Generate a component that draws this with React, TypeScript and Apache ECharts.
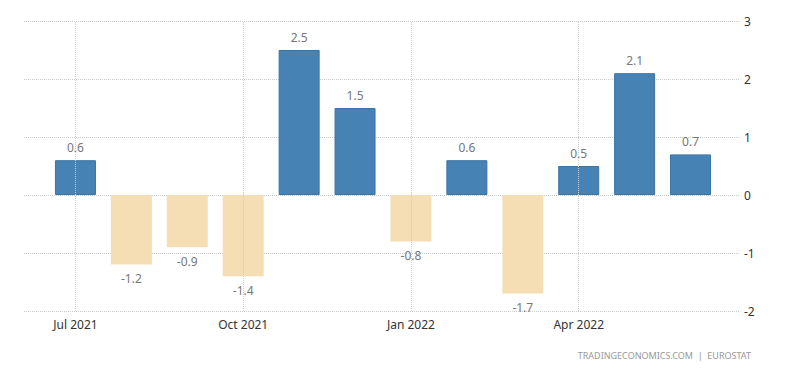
import React, { useEffect, useRef } from "react";
import * as echarts from "echarts";

const months = [
  "Jul 2021", "Aug 2021", "Sep 2021", "Oct 2021", "Nov 2021", "Dec 2021",
  "Jan 2022", "Feb 2022", "Mar 2022", "Apr 2022", "May 2022", "Jun 2022",
];
const values = [0.6, -1.2, -0.9, -1.4, 2.5, 1.5, -0.8, 0.6, -1.7, 0.5, 2.1, 0.7];
const gridMonths = ["Jul 2021", "Oct 2021", "Jan 2022", "Apr 2022"];
const yMin = -2;
const yMax = 3;
const source = "TRADINGECONOMICS.COM  |  EUROSTAT";

const FONT = "'Noto Sans', 'Open Sans', sans-serif";

export default function App() {
  const ref = useRef<HTMLDivElement>(null);

  useEffect(() => {
    document.body.style.margin = "0";
    if (!ref.current) return;
    const chart = echarts.init(ref.current, null, { renderer: "svg" });
    chart.setOption({
      animation: false,
      backgroundColor: "#ffffff",
      textStyle: { fontFamily: FONT },
      grid: [
        { left: 24, right: 60, top: 21, bottom: 62 },
        { left: 47.5, right: 81.5, top: 21, bottom: 62 },
      ],
      xAxis: [
        { gridIndex: 0, type: "value", min: 0, max: 1, show: false },
        {
          gridIndex: 1,
          type: "category",
          data: months,
          axisLine: { show: false },
          axisTick: { show: false },
          splitLine: { show: false },
          axisLabel: {
            interval: 2,
            margin: 7,
            color: "#333",
            fontSize: 12,
            fontFamily: FONT,
          },
        },
      ],
      yAxis: [
        {
          gridIndex: 0,
          type: "value",
          min: yMin,
          max: yMax,
          interval: 1,
          position: "right",
          axisLine: { show: false },
          axisTick: { show: false },
          axisLabel: { margin: 4, color: "#333", fontSize: 12, fontFamily: FONT },
          splitLine: { lineStyle: { color: "#cccccc", type: "dotted", width: 1 } },
        },
        { gridIndex: 1, type: "value", min: yMin, max: yMax, interval: 1, show: false },
      ],
      graphic: [
        {
          type: "text",
          right: 49,
          top: 351,
          style: {
            text: source,
            fill: "#999",
            font: `9px ${FONT}`,
          },
        },
      ],
      series: [
        {
          type: "line",
          xAxisIndex: 1,
          yAxisIndex: 1,
          data: months.map(() => null),
          showSymbol: false,
          z: 1,
          silent: true,
          markLine: {
            silent: true,
            symbol: ["none", "none"],
            label: { show: false },
            lineStyle: { color: "#cccccc", type: "dotted", width: 1 },
            data: gridMonths.map((m) => ({ xAxis: m })),
          },
        },
        {
          type: "bar",
          xAxisIndex: 1,
          yAxisIndex: 1,
          z: 3,
          barWidth: 41,
          data: values.map((v) => ({
            value: v,
            itemStyle:
              v >= 0
                ? { color: "#4682B4", borderColor: "#3c73a1", borderWidth: 1 }
                : { color: "#F5DEB3" },
            label: { position: v >= 0 ? "top" : "bottom", distance: v >= 0 ? 7 : 8 },
          })),
          label: {
            show: true,
            color: "#777",
            fontSize: 12,
            fontFamily: FONT,
            formatter: "{c}",
          },
        },
      ],
    });
    return () => chart.dispose();
  }, []);

  return (
    <div
      ref={ref}
      style={{ position: "fixed", left: 0, top: 0, width: 800, height: 373 }}
    />
  );
}
